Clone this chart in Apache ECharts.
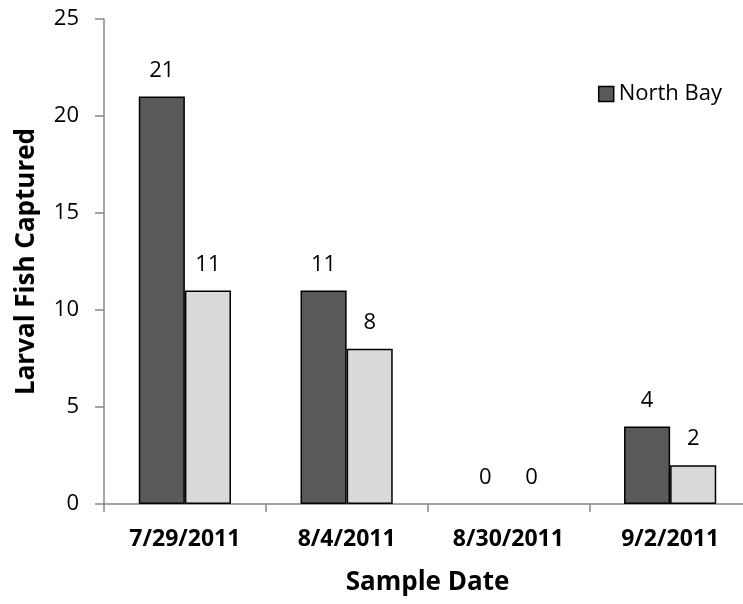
<!DOCTYPE html>
<html><head><meta charset="utf-8">
<script src="https://cdn.jsdelivr.net/npm/echarts@6/dist/echarts.min.js"></script>
<style>html,body{margin:0;padding:0;background:#fff}#c{width:743px;height:604px}</style>
</head><body><div id="c"></div>
<script>
const categories = ['7/29/2011', '8/4/2011', '8/30/2011', '9/2/2011'];
const northBay = [21, 11, 0, 4];
const secondSeries = [11, 8, 0, 2];
const yTicks = { min: 0, max: 25, interval: 5 };
const FONT = 'Open Sans';
const toItems = arr => arr.map(v => v === 0 ? { value: v, itemStyle: { borderWidth: 0 } } : v);
const chart = echarts.init(document.getElementById('c'), null, {renderer: 'canvas'});
const labelStyle = { show: true, position: 'top', distance: 15, color: '#000', fontFamily: FONT, fontSize: 22 };
chart.setOption({
  animation: false,
  backgroundColor: '#fff',
  textStyle: { fontFamily: FONT },
  grid: { left: 104, top: 19, bottom: 100, width: 647, containLabel: false, outerBoundsMode: 'none' },
  legend: {
    data: ['North Bay'], right: 16, top: 78, itemWidth: 15, itemHeight: 15, itemGap: 4,
    textStyle: { fontFamily: FONT, fontSize: 22, color: '#000' }, icon: 'rect',
    itemStyle: { borderColor: '#000', borderWidth: 1.5 }
  },
  xAxis: {
    type: 'category', data: categories,
    name: 'Sample Date', nameLocation: 'middle', nameGap: 66,
    nameTextStyle: { fontFamily: FONT, fontSize: 26, fontWeight: 'bold', color: '#000' },
    axisLine: { lineStyle: { color: '#868686', width: 1.5 } },
    axisTick: { show: true, length: 8, lineStyle: { color: '#868686', width: 1.5 } },
    axisLabel: { fontFamily: FONT, fontSize: 23, fontWeight: 'bold', color: '#000', margin: 24 }
  },
  yAxis: {
    type: 'value', min: yTicks.min, max: yTicks.max, interval: yTicks.interval,
    name: 'Larval Fish Captured', nameLocation: 'middle', nameGap: 64, nameRotate: 90,
    nameTextStyle: { fontFamily: FONT, fontSize: 26, fontWeight: 'bold', color: '#000' },
    axisLine: { show: true, lineStyle: { color: '#868686', width: 1.5 } },
    axisTick: { show: true, length: 9, lineStyle: { color: '#868686', width: 1.5 } },
    splitLine: { show: false },
    axisLabel: { fontFamily: FONT, fontSize: 22, color: '#000', margin: 25 }
  },
  series: [
    { name: 'North Bay', type: 'bar', data: toItems(northBay), barGap: '0%', barCategoryGap: '43%',
      itemStyle: { color: '#595959', borderColor: '#000', borderWidth: 1.5 }, label: labelStyle },
    { name: 'South Bay', type: 'bar', data: toItems(secondSeries),
      itemStyle: { color: '#d9d9d9', borderColor: '#000', borderWidth: 1.5 }, label: labelStyle }
  ]
});
</script></body></html>
